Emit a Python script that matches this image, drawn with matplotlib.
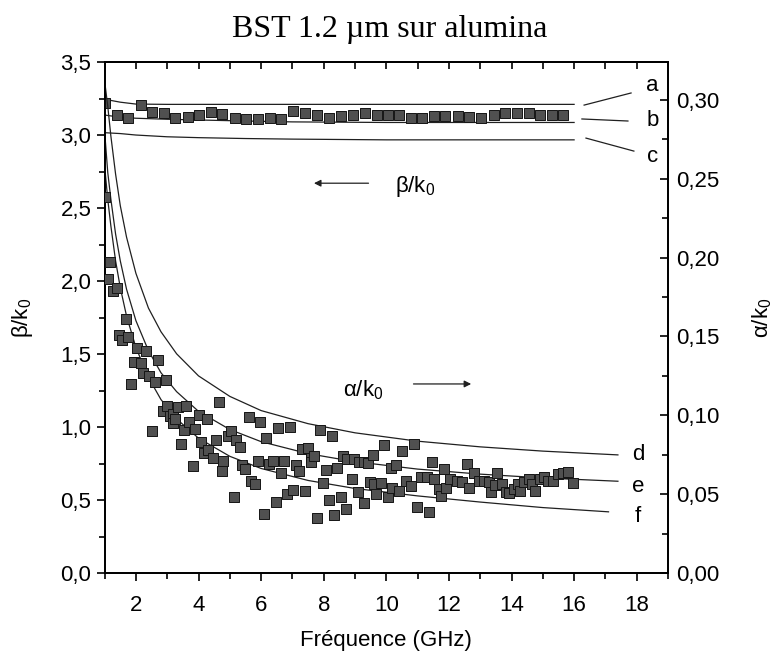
import numpy as np
import matplotlib.pyplot as plt
from matplotlib.ticker import MultipleLocator, FuncFormatter

plt.rcParams['font.family'] = ['Liberation Sans', 'DejaVu Sans']
plt.rcParams['mathtext.fontset'] = 'custom'
plt.rcParams['mathtext.rm'] = 'Liberation Sans'
plt.rcParams['mathtext.it'] = 'Liberation Sans:italic'
plt.rcParams['mathtext.default'] = 'regular'

# measured beta/k0 (left axis)
f_beta = [1.01, 1.39, 1.75, 2.16, 2.52, 2.89, 3.24, 3.65, 4.01, 4.40,
          4.75, 5.16, 5.53, 5.90, 6.27, 6.64, 7.03, 7.40, 7.78, 8.18,
          8.55, 8.94, 9.31, 9.69, 10.06, 10.41, 10.78, 11.15, 11.52, 11.89,
          12.29, 12.64, 13.01, 13.43, 13.80, 14.18, 14.55, 14.92, 15.29, 15.66]
beta = [3.217, 3.137, 3.12, 3.203, 3.16, 3.153, 3.12, 3.123, 3.14, 3.158,
        3.146, 3.12, 3.11, 3.11, 3.12, 3.11, 3.164, 3.153, 3.14, 3.12,
        3.13, 3.14, 3.153, 3.135, 3.135, 3.135, 3.12, 3.12, 3.13, 3.13,
        3.13, 3.123, 3.12, 3.135, 3.153, 3.153, 3.15, 3.135, 3.135, 3.135]

# measured alpha/k0 (right axis)
f_alpha = [1.00, 1.10, 1.17, 1.28, 1.38, 1.46, 1.56, 1.67, 1.75, 1.84,
           1.94, 2.02, 2.15, 2.23, 2.31, 2.41, 2.50, 2.61, 2.69, 2.87,
           2.96, 2.98, 3.08, 3.19, 3.19, 3.24, 3.35, 3.43, 3.53, 3.59,
           3.70, 3.81, 3.90, 4.02, 4.09, 4.17, 4.28, 4.30, 4.47, 4.55,
           4.65, 4.75, 4.77, 4.94, 5.03, 5.12, 5.20, 5.31, 5.40, 5.49,
           5.60, 5.68, 5.79, 5.90, 5.97, 6.08, 6.16, 6.25, 6.37, 6.46,
           6.54, 6.64, 6.74, 6.82, 6.92, 7.02, 7.12, 7.20, 7.31, 7.40,
           7.49, 7.60, 7.60, 7.68, 7.77, 7.87, 7.97, 8.07, 8.16, 8.26,
           8.34, 8.44, 8.54, 8.62, 8.71, 8.76, 8.90, 8.97, 9.10, 9.13,
           9.29, 9.30, 9.40, 9.47, 9.56, 9.61, 9.66, 9.83, 9.93, 10.04,
           10.14, 10.19, 10.30, 10.41, 10.50, 10.62, 10.78, 10.89, 10.97, 11.10,
           11.31, 11.36, 11.45, 11.52, 11.68, 11.74, 11.84, 11.90, 12.05, 12.26,
           12.42, 12.58, 12.64, 12.80, 12.96, 13.12, 13.27, 13.36, 13.47, 13.54,
           13.70, 13.81, 13.91, 14.07, 14.21, 14.28, 14.39, 14.55, 14.65, 14.76,
           14.92, 15.03, 15.18, 15.34, 15.50, 15.66, 15.82, 15.98]
alpha = [0.2384, 0.1865, 0.197, 0.179, 0.181, 0.151, 0.148, 0.161, 0.1498, 0.1196,
         0.134, 0.1428, 0.133, 0.127, 0.141, 0.125, 0.0901, 0.1213, 0.1348, 0.1027,
         0.1226, 0.1059, 0.0996, 0.1006, 0.0954, 0.0975, 0.1055, 0.0821, 0.0905, 0.1059,
         0.0958, 0.0677, 0.0911, 0.100, 0.0832, 0.0764, 0.0977, 0.0778, 0.0731, 0.0845,
         0.1087, 0.0649, 0.0711, 0.0869, 0.0901, 0.0479, 0.0845, 0.0796, 0.0684, 0.0658,
         0.0992, 0.0584, 0.0563, 0.0711, 0.0958, 0.0373, 0.0853, 0.069, 0.0709, 0.0451,
         0.0918, 0.0635, 0.0709, 0.0498, 0.0927, 0.0525, 0.0684, 0.0647, 0.0789, 0.0523,
         0.0791, 0.0732, 0.0701, 0.0742, 0.0346, 0.0909, 0.0568, 0.0654, 0.046, 0.0867,
         0.0367, 0.0669, 0.0479, 0.0742, 0.0407, 0.0722, 0.0599, 0.0722, 0.0511, 0.0704,
         0.0443, 0.0704, 0.0696, 0.0574, 0.0747, 0.0563, 0.05, 0.057, 0.0813, 0.0485,
         0.0669, 0.0536, 0.0684, 0.0521, 0.0772, 0.0584, 0.0553, 0.0818, 0.0416, 0.0606,
         0.0606, 0.0384, 0.0701, 0.0595, 0.0532, 0.0489, 0.0658, 0.0542, 0.0595, 0.0584,
         0.0574, 0.069, 0.0542, 0.0633, 0.0584, 0.0584, 0.0574, 0.0515, 0.0557, 0.0637,
         0.0563, 0.0511, 0.0506, 0.0532, 0.0563, 0.0521, 0.0574, 0.0595, 0.0563, 0.0521,
         0.0595, 0.0606, 0.0584, 0.0584, 0.0627, 0.0637, 0.0641, 0.0568]

# simulated beta/k0 curves a, b, c
f_abc = [1.0, 1.5, 2.0, 3.0, 4.0, 5.5, 7.0, 10.0, 13.0, 16.0]
beta_a = [3.245, 3.225, 3.212, 3.21, 3.21, 3.21, 3.21, 3.21, 3.21, 3.21]
beta_b = [3.137, 3.122, 3.115, 3.108, 3.103, 3.096, 3.09, 3.086, 3.086, 3.086]
beta_c = [3.016, 3.01, 3.0, 2.988, 2.982, 2.976, 2.972, 2.967, 2.967, 2.967]

# simulated alpha/k0 curves d, e, f
f_de = [1.0, 1.1, 1.2, 1.35, 1.5, 1.7, 2.0, 2.4, 2.8, 3.3,
        4.0, 5.0, 6.0, 7.5, 9.0, 11.0, 13.0, 15.0, 17.4]
f_f = [1.0, 1.1, 1.2, 1.35, 1.5, 1.7, 2.0, 2.4, 2.8, 3.3,
       4.0, 5.0, 6.0, 7.5, 9.0, 11.0, 13.0, 15.0, 17.1]
alpha_d = [0.312, 0.296, 0.277, 0.253, 0.233, 0.213, 0.190, 0.168, 0.153, 0.139,
           0.125, 0.112, 0.103, 0.0947, 0.0889, 0.0836, 0.080, 0.0773, 0.0749]
alpha_e = [0.280, 0.254, 0.237, 0.215, 0.198, 0.180, 0.160, 0.141, 0.127, 0.115,
           0.1025, 0.091, 0.0833, 0.0757, 0.0706, 0.0659, 0.0627, 0.0603, 0.0582]
alpha_f = [0.258, 0.237, 0.220, 0.198, 0.181, 0.163, 0.143, 0.124, 0.110, 0.0977,
           0.0855, 0.074, 0.0663, 0.0587, 0.0536, 0.0489, 0.0450, 0.0415, 0.0388]

fs = 16
sq = dict(marker='s', s=48, c='#505050', edgecolors='#151515', linewidths=0.7,
          zorder=3)
ln = dict(color='#202020', lw=0.9)

fig = plt.figure(figsize=(7.79, 6.62), dpi=100)
ax = fig.add_axes([0.1343, 0.1344, 0.7232, 0.7719])
ax2 = ax.twinx()

ax.plot(f_abc, beta_a, **ln)
ax.plot(f_abc, beta_b, **ln)
ax.plot(f_abc, beta_c, **ln)
ax.scatter(f_beta, beta, **sq)

ax2.plot(f_de, alpha_d, **ln)
ax2.plot(f_de, alpha_e, **ln)
ax2.plot(f_f, alpha_f, **ln)
ax2.scatter(f_alpha, alpha, **sq)

ax.set_xlim(1, 19)
ax.set_ylim(0, 3.5)
ax2.set_ylim(0, 0.324)

comma1 = FuncFormatter(lambda v, p: ('%.1f' % v).replace('.', ','))
comma2 = FuncFormatter(lambda v, p: ('%.2f' % v).replace('.', ','))

ax.xaxis.set_minor_locator(MultipleLocator(1))
ax.set_xticks([2, 4, 6, 8, 10, 12, 14, 16, 18])
ax.yaxis.set_major_locator(MultipleLocator(0.5))
ax.yaxis.set_minor_locator(MultipleLocator(0.25))
ax.yaxis.set_major_formatter(comma1)
ax2.yaxis.set_major_locator(MultipleLocator(0.05))
ax2.yaxis.set_minor_locator(MultipleLocator(0.025))
ax2.yaxis.set_major_formatter(comma2)

ax.tick_params(axis='both', which='both', direction='out', top=False,
               right=False, labelsize=fs, width=1.2)
ax.tick_params(which='major', length=6)
ax.tick_params(which='minor', length=4)
ax.tick_params(axis='x', which='major', pad=10)
ax2.tick_params(axis='y', which='both', direction='in', labelsize=fs,
                width=1.2)
ax2.tick_params(which='major', length=6, pad=6)
ax2.tick_params(which='minor', length=4)

top = ax.secondary_xaxis('top')
top.set_xticks(np.arange(2, 19, 1))
top.tick_params(direction='in', length=5, width=1.2, labeltop=False)

for a in (ax, ax2):
    for s in a.spines.values():
        s.set_linewidth(1.3)
top.spines['top'].set_linewidth(1.3)

ax.set_xlabel('Fréquence (GHz)', fontsize=fs, labelpad=10)
ax.set_ylabel(r'β/k$_0$', fontsize=fs, labelpad=18)
ax2.set_ylabel(r'α/k$_0$', fontsize=fs, labelpad=22)

fig.suptitle('BST 1.2 µm sur alumina', family='Liberation Serif',
             fontsize=23, y=0.977)

# curve labels
ax.plot([16.32, 17.82], [3.205, 3.288], **ln)
ax.plot([16.25, 17.72], [3.11, 3.096], **ln)
ax.plot([16.38, 17.91], [2.979, 2.89], **ln)
ax.text(18.5, 3.34, 'a', fontsize=fs, ha='center', va='center')
ax.text(18.5, 3.10, 'b', fontsize=fs, ha='center', va='center')
ax.text(18.5, 2.85, 'c', fontsize=fs, ha='center', va='center')
ax.text(18.04, 0.815, 'd', fontsize=fs, ha='center', va='center')
ax.text(18.04, 0.596, 'e', fontsize=fs, ha='center', va='center')
ax.text(18.04, 0.384, 'f', fontsize=fs, ha='center', va='center')

ax.annotate('', xy=(7.60, 2.67), xytext=(9.52, 2.67),
            arrowprops=dict(arrowstyle='-|>', color='#202020', lw=0.9,
                            mutation_scale=10))
ax.text(10.29, 2.65, r'β/k$_0$', fontsize=fs, ha='left', va='center')
ax.annotate('', xy=(12.80, 1.295), xytext=(10.78, 1.295),
            arrowprops=dict(arrowstyle='-|>', color='#202020', lw=0.9,
                            mutation_scale=10))
ax.text(8.63, 1.25, r'α/k$_0$', fontsize=fs, ha='left', va='center')

fig.savefig('out.png', dpi=100)
